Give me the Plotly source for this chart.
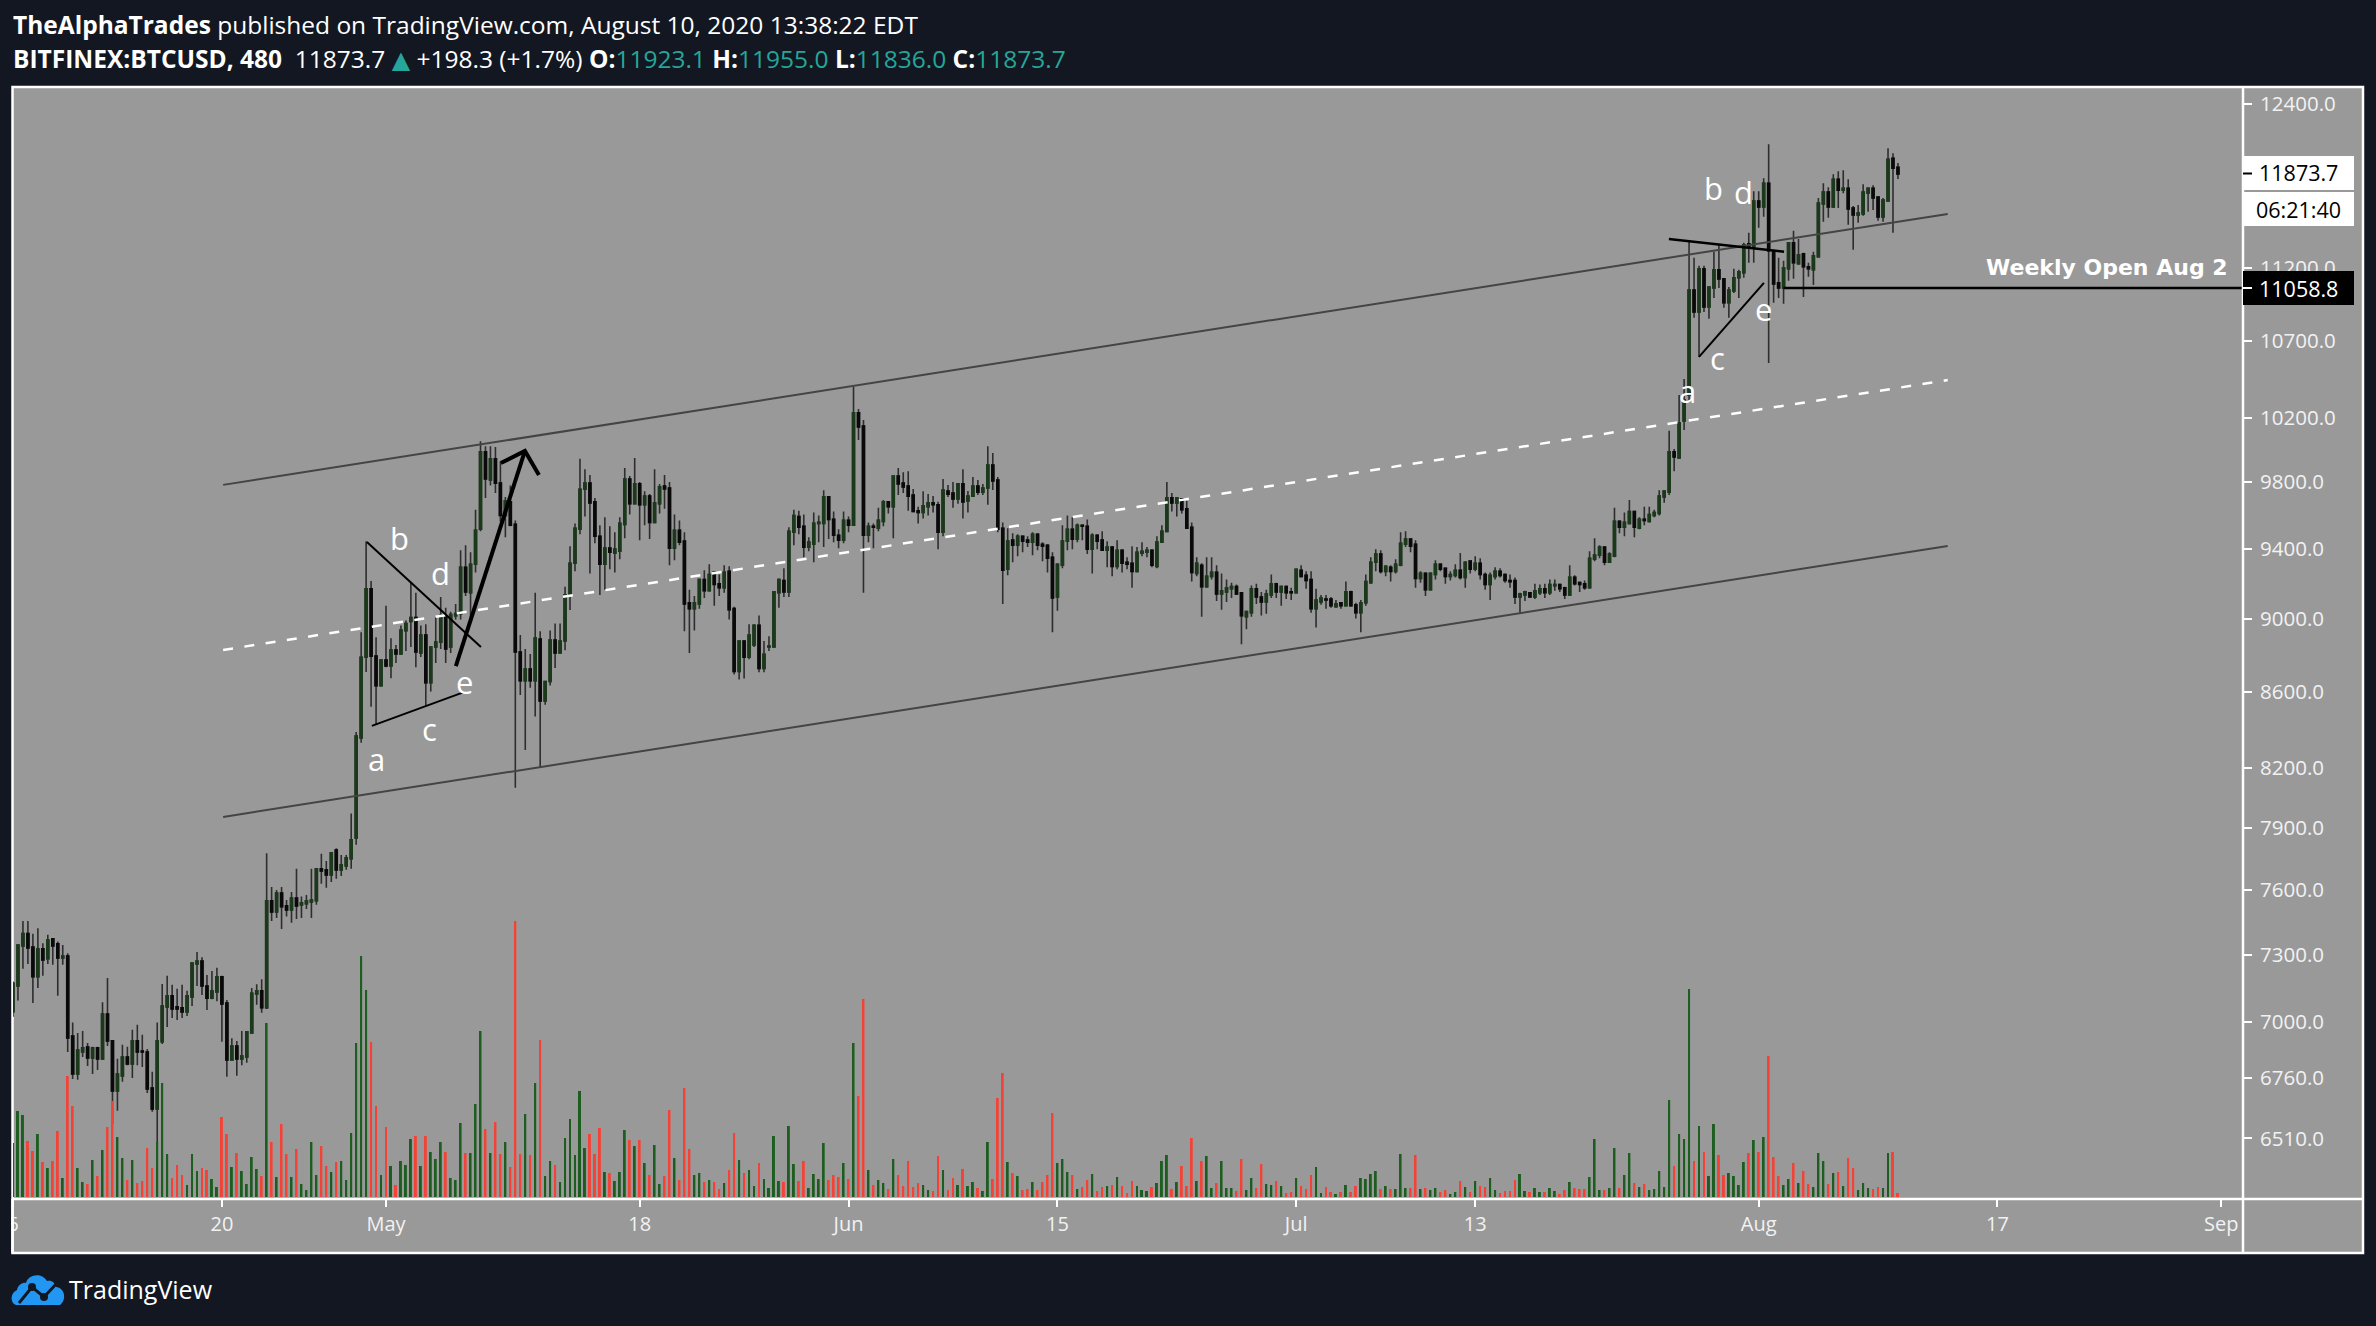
import math
from datetime import datetime, timedelta
import plotly.graph_objects as go

# ---------- chart values ----------
opens = [7045,7159,7340,7396,7335,7200,7326,7281,7372,7349,
7285,7294,6939,6777,6870,6892,6845,6888,6841,7035,
6918,6706,6769,6849,6819,6918,6874,6870,6718,6631,
6914,7066,7115,7066,7062,7044,7110,7258,7271,7159,
7105,7132,7200,7083,6836,6896,6841,6849,6952,7123,
7137,7062,7549,7497,7586,7525,7506,7562,7530,7535,
7544,7549,7701,7696,7672,7792,7696,7715,7749,7851,
8355,8786,9169,8792,8632,8771,8738,8826,8804,8933,
8984,9006,8809,8908,8648,8842,8869,9011,8842,9017,
9028,9293,9146,9310,9515,9985,9812,9942,9793,9597,
9679,9544,8815,8659,8722,8659,8886,8550,8654,8880,
8809,8875,9134,9316,9515,9755,9793,9679,9474,9310,
9404,9375,9386,9544,9818,9668,9788,9662,9714,9556,
9668,9775,9763,9404,9509,9445,9089,9056,9083,9222,
9158,9263,9198,9175,9269,9056,8709,8875,8786,8853,
8962,8725,8842,8842,9146,9216,9151,9498,9591,9533,
9410,9427,9550,9550,9709,9574,9480,9451,9568,9539,
10232,10148,9480,9533,9521,9562,9679,9650,9836,9793,
9775,9720,9626,9615,9650,9673,9662,9498,9745,9732,
9697,9788,9685,9714,9775,9738,9763,9904,9812,9521,
9281,9451,9421,9474,9451,9439,9486,9427,9421,9351,
9122,9304,9445,9515,9457,9539,9533,9398,9480,9451,
9392,9410,9298,9392,9322,9316,9269,9375,9380,9392,
9298,9439,9503,9703,9673,9697,9638,9527,9257,9304,
9181,9240,9263,9140,9151,9169,9181,9146,9011,9033,
9169,9122,9094,9134,9198,9151,9181,9151,9146,9275,
9246,9222,9056,9094,9111,9111,9067,9089,9072,9151,
9078,9033,9089,9204,9322,9369,9269,9293,9269,9304,
9427,9457,9427,9228,9257,9163,9251,9310,9287,9240,
9246,9275,9234,9328,9281,9316,9251,9193,9240,9269,
9251,9216,9216,9122,9134,9146,9122,9146,9169,9146,
9187,9193,9175,9134,9234,9204,9198,9175,9339,9363,
9410,9322,9357,9562,9527,9550,9621,9521,9574,9562,
9597,9609,9709,9738,9985,9948,10180,10345,11045,10895,
11192,10929,11059,11185,11122,10957,11038,11129,11164,11367,
11346,11675,11631,11804,11318,11094,11058.8,11192,11374,11227,
11297,11206,11185,11276,11653,11739,11631,11833,11753,11768,
11624,11574,11581,11732,11768,11703,11560,11675,11990,11923.1]

highs = [7179,7344,7455,7455,7396,7421,7352,7391,7372,7360,
7344,7306,6998,6952,6961,6909,6893,6893,7087,7195,
6918,6841,6901,6893,6966,6988,6944,6883,6786,6998,
7168,7204,7164,7146,7164,7137,7262,7312,7288,7208,
7226,7240,7204,7097,6929,6918,6961,6957,7150,7166,
7189,7776,7614,7600,7614,7553,7591,7701,7569,7576,
7701,7701,7773,7739,7778,7800,7768,7768,7971,8386,
8924,9445,9214,8896,8771,9072,8891,8853,8962,8989,
9206,9146,8962,8968,8842,9011,9122,9061,9039,9083,
9392,9421,9380,9632,10052,10021,10021,10015,9925,9709,
9779,9568,8908,8831,8804,9146,8929,8654,8934,8973,
8973,9181,9415,9550,9942,9878,9842,9703,9539,9586,
9533,9498,9586,9885,9836,9948,9800,9744,9726,9878,
9788,9842,9800,9603,9568,9498,9163,9128,9228,9275,
9310,9263,9251,9304,9298,9067,8875,8875,8968,8968,
9017,8875,8902,9151,9228,9287,9527,9632,9626,9603,
9468,9615,9597,9750,9709,9621,9515,9621,9591,10400,
10256,10186,9556,9550,9644,9691,9685,9836,9885,9860,
9866,9757,9650,9744,9726,9714,9679,9818,9782,9800,
9793,9878,9745,9830,9812,9788,10021,9978,9830,9556,
9521,9492,9486,9474,9474,9498,9492,9439,9427,9380,
9316,9539,9597,9586,9550,9544,9574,9492,9486,9503,
9445,9410,9451,9398,9351,9415,9410,9439,9410,9398,
9474,9539,9800,9732,9709,9703,9685,9556,9351,9316,
9351,9351,9304,9257,9222,9204,9193,9146,9039,9187,
9198,9151,9163,9251,9204,9187,9187,9175,9281,9304,
9269,9269,9169,9134,9134,9122,9105,9094,9210,9158,
9089,9105,9251,9351,9398,9392,9304,9304,9339,9498,
9503,9462,9451,9269,9257,9257,9334,9316,9287,9269,
9310,9375,9328,9334,9357,9345,9263,9263,9293,9287,
9257,9251,9234,9146,9158,9146,9198,9193,9198,9222,
9222,9198,9181,9304,9246,9210,9216,9386,9462,9421,
9410,9380,9644,9568,9615,9691,9621,9586,9650,9650,
9632,9750,9750,10118,10003,10345,10449,11381,11269,11213,
11213,11066,11311,11360,11122,11066,11192,11185,11374,11446,
11746,11746,11841,12094,11325,11269,11248,11374,11460,11402,
11304,11234,11311,11696,11804,11775,11870,11893,11900,11833,
11638,11646,11797,11775,11790,11710,11696,12065,12028,11955]

lows = [7023,7094,7236,7258,7083,7150,7204,7258,7254,7115,
7254,6870,6756,6752,6849,6811,6777,6794,6841,6896,
6569,6623,6744,6814,6760,6814,6806,6697,6619,6496,
6905,6978,7017,7009,7017,7026,7070,7159,7119,7052,
7100,7091,6914,6765,6836,6769,6814,6824,6952,7075,
7040,7057,7455,7469,7418,7475,7446,7464,7469,7511,
7469,7530,7629,7610,7638,7653,7667,7696,7701,7817,
8330,8705,8519,8423,8626,8732,8672,8754,8804,8820,
8842,8732,8787,8524,8600,8754,8831,8754,8809,8995,
8995,9128,8995,9263,9503,9703,9779,9732,9562,9468,
9533,8100,8582,8293,8621,8467,8200,8530,8632,8727,
8809,8825,9048,9269,9485,9591,9257,9433,9134,9163,
9281,9263,9339,9462,9603,9668,9451,9539,9457,9556,
9609,9638,9304,9334,9421,8929,8809,8934,9056,9116,
9158,9072,9128,9146,8995,8692,8665,8670,8775,8842,
8704,8704,8820,8842,9061,9122,9122,9421,9486,9351,
9386,9322,9439,9410,9457,9439,9404,9433,9498,9539,
10060,9146,9439,9404,9503,9533,9609,9462,9720,9732,
9626,9621,9550,9580,9597,9615,9398,9474,9709,9644,
9668,9580,9615,9709,9720,9720,9662,9751,9498,9083,
9246,9322,9357,9380,9410,9363,9392,9328,9263,8924,
9044,9287,9392,9398,9439,9451,9369,9257,9398,9392,
9293,9240,9281,9263,9281,9175,9263,9357,9351,9293,
9287,9439,9498,9621,9591,9609,9521,9210,9240,9011,
9175,9222,9099,9050,9094,9116,9134,8858,8940,9011,
9083,9017,9028,9116,9116,9072,9111,9105,9146,9234,
9169,9033,8951,9078,9056,9061,9061,9056,9072,9067,
9000,8924,9072,9198,9269,9257,9240,9210,9257,9298,
9410,9380,9175,9204,9128,9163,9222,9269,9198,9216,
9234,9222,9175,9257,9269,9222,9163,9105,9222,9234,
9204,9175,9083,9033,9099,9122,9111,9134,9116,9134,
9158,9151,9111,9128,9187,9151,9163,9175,9328,9345,
9304,9322,9351,9492,9474,9544,9468,9515,9539,9556,
9586,9597,9673,9720,9866,9942,10123,10313,10855,10594,
10895,10848,10990,11059,10923,10855,11025,10990,11129,11234,
11234,11481,11560,10554,10957,10990,10950,11108,11122,11220,
10997,11136,11080,11269,11524,11553,11631,11624,11732,11503,
11325,11517,11567,11596,11610,11531,11524,11675,11446,11836]

closes = [7171,7344,7396,7330,7200,7326,7276,7367,7340,7285,
7294,6931,6777,6879,6888,6845,6888,6841,7035,6918,
6706,6777,6849,6819,6918,6870,6870,6714,6631,6918,
7070,7115,7057,7057,7044,7115,7262,7271,7159,7105,
7137,7200,7079,6836,6896,6841,6853,6957,7126,7137,
7062,7549,7497,7586,7521,7506,7562,7525,7539,7549,
7553,7701,7691,7672,7778,7696,7720,7754,7841,8365,
8786,9169,8792,8632,8771,8738,8826,8804,8936,8973,
9006,8815,8908,8648,8842,8869,9017,8831,9023,9028,
9293,9151,9310,9509,9985,9818,9942,9793,9597,9685,
9539,8815,8659,8722,8659,8891,8550,8654,8880,8809,
8875,9134,9316,9521,9755,9793,9673,9474,9310,9404,
9380,9398,9550,9818,9668,9788,9662,9714,9556,9673,
9770,9757,9404,9509,9439,9083,9056,9089,9222,9158,
9251,9193,9175,9263,9050,8709,8875,8786,8908,8962,
8725,8802,8847,9151,9222,9151,9503,9597,9527,9410,
9439,9550,9556,9709,9574,9480,9451,9568,9539,10232,
10142,9480,9533,9527,9568,9679,9650,9836,9788,9770,
9714,9621,9615,9656,9673,9662,9498,9751,9726,9697,
9788,9679,9714,9775,9738,9763,9904,9806,9515,9275,
9445,9421,9474,9445,9439,9486,9421,9415,9345,9116,
9310,9445,9515,9457,9539,9533,9398,9480,9445,9392,
9410,9298,9392,9316,9310,9269,9380,9386,9392,9304,
9439,9503,9703,9673,9703,9632,9521,9263,9316,9181,
9240,9263,9140,9158,9175,9181,9140,9017,9039,9169,
9122,9094,9140,9198,9151,9181,9146,9146,9281,9240,
9216,9056,9105,9116,9105,9072,9083,9072,9151,9072,
9033,9089,9210,9322,9369,9269,9298,9269,9310,9433,
9457,9415,9228,9257,9163,9257,9310,9281,9240,9251,
9275,9234,9322,9281,9316,9251,9193,9246,9269,9246,
9216,9210,9122,9140,9151,9122,9158,9169,9146,9193,
9193,9169,9134,9234,9198,9193,9175,9345,9363,9410,
9322,9369,9562,9527,9556,9621,9527,9574,9568,9603,
9615,9714,9745,9985,9954,10167,10313,11045,10895,11192,
10929,11066,11185,11122,10957,11045,11129,11171,11360,11346,
11675,11631,11804,11318,11087,11059,11199,11374,11234,11290,
11206,11192,11283,11660,11739,11631,11833,11753,11768,11617,
11574,11588,11739,11768,11696,11560,11682,11982,11915,11873.7]

volumes = [54,86,82,56,46,63,35,29,36,66,
19,121,91,29,15,13,37,21,47,70,
96,60,39,17,37,14,16,49,29,55,
114,43,19,32,22,12,43,26,29,27,
18,10,80,63,30,44,26,13,40,28,
21,174,55,20,73,43,20,48,13,7,
55,22,51,31,25,35,36,17,64,154,
241,207,155,91,22,70,31,12,36,32,
58,61,31,61,45,38,55,45,19,17,
74,44,44,93,166,68,44,75,43,55,
30,276,43,83,42,114,157,21,36,32,
15,59,78,42,106,49,63,43,
69,25,24,16,25,67,57,51,57,34,22,52,13,21,87,39,17,109,48,22,24,15,17,15,8,14,27,64,37,24,27,11,34,18,9,61,16,15,71,33,16,36,9,23,18,54,17,22,20,34,18,154,101,198,27,12,17,14,8,38,22,11,36,10,14,12,7,6,41,27,7,19,12,28,11,15,9,6,55,18,99,124,35,24,21,7,8,15,7,15,22,84,34,38,25,22,8,10,17,23,6,10,11,12,20,
11,4,16,11,7,6,10,14,36,42,8,15,31,11,59,16,36,41,9,14,36,9,9,6,38,7,19,9,33,13,12,16,11,4,5,19,11,8,22,30,4,10,5,3,5,12,5,11,19,18,23,26,8,11,8,8,43,9,9,42,8,9,7,9,5,7,3,5,16,10,5,16,11,10,19,7,4,6,6,17,23,6,5,9,5,5,9,6,3,7,15,9,8,8,20,58,7,7,9,49,9,22,44,14,10,
13,7,8,26,10,97,31,63,58,208,36,71,45,21,73,42,22,24,21,12,35,44,57,45,60,141,40,21,12,18,34,14,26,13,10,44,36,13,24,25,11,39,29,7,14,9,8,10,9,44,45,4]

first_bar = datetime(2020, 4, 6, 0, 0)
bar_hours = 8

x_tick_dates = ["2020-04-06","2020-04-20","2020-05-01","2020-05-18","2020-06-01","2020-06-15",
                "2020-07-01","2020-07-13","2020-08-01","2020-08-17","2020-09-01"]
x_tick_text = ["6","20","May","18","Jun","15","Jul","13","Aug","17","Sep"]
y_tick_vals = [12400,11200,10700,10200,9800,9400,9000,8600,8200,7900,7600,7300,7000,6760,6510]
y_tick_text = [f"{v:.1f}" for v in y_tick_vals]

upper_channel = (["2020-04-20 02:00","2020-08-13 16:00"],[9782,11581])
middle_channel = (["2020-04-20 02:00","2020-08-13 16:00"],[8826,10442])
lower_channel = (["2020-04-20 02:00","2020-08-13 16:00"],[7954,9417])
tri1_upper = (["2020-04-29 17:15","2020-05-07 08:40"],[9440,8842])
tri1_lower = (["2020-04-30 01:12","2020-05-06 05:15"],[8418,8597])
arrow_shaft = (["2020-05-05 16:20","2020-05-10 07:26"],[8738,9991])
arrow_head = (["2020-05-08 16:50","2020-05-10 07:26","2020-05-11 06:00"],[9916,9991,9842])
tri2_upper = (["2020-07-25 23:30","2020-08-02 16:48"],[11402,11311])
tri2_lower = (["2020-07-28 00:00","2020-08-01 08:24"],[10594,11094])
weekly_open = (["2020-08-02 16:00","2020-09-02 11:00"],[11058.8,11058.8])

letters = ["a","b","d","c","e","a","b","d","c","e"]
letter_dates = ["2020-04-30 09:20","2020-05-01 22:20","2020-05-04 16:20","2020-05-03 22:30","2020-05-06 07:00",
                "2020-07-27 06:15","2020-07-29 00:00","2020-07-31 00:00","2020-07-29 06:30","2020-08-01 08:24"]
letter_prices = [8247,9464,9259,8402,8651,10372,11768,11739,10587,10916]

# ---------- styling ----------
W, H = 2376, 1326
ML, MR, MT, MB = 13, 133, 87, 127
BG, PANEL = "#131722", "#999999"
UP_BODY, DOWN_BODY = "#1b3a1b", "#0a0a0a"
WICK = "#2e2e2e"
VOL_UP, VOL_DOWN = "#1d5e20", "#f44336"
TEAL = "#26a69a"
FONT = "Open Sans"

assert len(opens) == len(highs) == len(lows) == len(closes) == len(volumes), (len(opens), len(highs), len(lows), len(closes), len(volumes))

def ax(px):
    return (px - ML) / (W - ML - MR)
def ay(py):
    return (H - MB - py) / (H - MT - MB)

dates = [first_bar + timedelta(hours=bar_hours * i) for i in range(len(opens))]
bar_ms = bar_hours * 3600 * 1000
vol_colors = [VOL_DOWN if c < o else VOL_UP for o, c in zip(opens, closes)]

fig = go.Figure()
fig.add_trace(go.Candlestick(
    x=dates, open=opens, high=highs, low=lows, close=closes,
    increasing=dict(line=dict(color=WICK, width=1.6), fillcolor=WICK),
    decreasing=dict(line=dict(color=WICK, width=1.6), fillcolor=WICK),
    hoverinfo="skip", showlegend=False))
fig.add_trace(go.Candlestick(
    x=dates, open=opens, close=closes,
    high=[max(o, c) for o, c in zip(opens, closes)],
    low=[min(o, c) for o, c in zip(opens, closes)],
    increasing=dict(line=dict(color=UP_BODY, width=1.6), fillcolor=UP_BODY),
    decreasing=dict(line=dict(color=DOWN_BODY, width=1.6), fillcolor=DOWN_BODY),
    hoverinfo="skip", showlegend=False))
fig.add_trace(go.Bar(x=dates, y=volumes, width=0.4 * bar_ms, marker=dict(color=vol_colors, line=dict(width=0)),
                     yaxis="y2", hoverinfo="skip", showlegend=False))

def add_line(pts, color, width, dash="solid"):
    fig.add_trace(go.Scatter(x=pts[0], y=pts[1], mode="lines", line=dict(color=color, width=width, dash=dash),
                             hoverinfo="skip", showlegend=False))

add_line(upper_channel, "#444444", 2)
add_line(lower_channel, "#444444", 2)
add_line(middle_channel, "#ffffff", 2.5, "10px 11.5px")
add_line(tri1_upper, "#000000", 2)
add_line(tri1_lower, "#000000", 2)
add_line(arrow_shaft, "#000000", 4)
add_line(arrow_head, "#000000", 4)
add_line(tri2_upper, "#000000", 2.5)
add_line(tri2_lower, "#000000", 2)
add_line(weekly_open, "#000000", 2.5)

annotations = []
for t, d, p in zip(letters, letter_dates, letter_prices):
    annotations.append(dict(text=t, x=d, y=math.log10(p), xref="x", yref="y", showarrow=False,
                            font=dict(family=FONT, size=31, color="#ffffff")))
annotations.append(dict(text="<b>Weekly Open Aug 2</b>", x="2020-09-01 14:00", y=math.log10(11199), xref="x", yref="y",
                        xanchor="right", showarrow=False, font=dict(family="DejaVu Sans", size=22, color="#ffffff")))

def txt(text, px, py, size, color="#ffffff", anchor="left", family=FONT):
    annotations.append(dict(text=text, x=ax(px), y=ay(py), xref="paper", yref="paper", xanchor=anchor, yanchor="middle",
                            showarrow=False, align="left", font=dict(family=family, size=size, color=color)))

def teal(s):
    return f'<span style="color:{TEAL}">{s}</span>'

triangle = f'<span style="color:{TEAL};font-family:DejaVu Sans;font-size:24px">▲</span>'
txt("<b>TheAlphaTrades</b> published on TradingView.com, August 10, 2020 13:38:22 EDT", 11, 25, 24.5)
txt("<b>BITFINEX:BTCUSD, 480</b>  11873.7 " + triangle + " +198.3 (+1.7%) <b>O:</b>" + teal("11923.1") +
    " <b>H:</b>" + teal("11955.0") + " <b>L:</b>" + teal("11836.0") + " <b>C:</b>" + teal("11873.7"), 11, 58, 24.5)
txt("TradingView", 67, 1289, 25)
txt("11873.7", 2298, 173, 21.5, "#000000", "center")
txt("06:21:40", 2298, 209, 21.5, "#000000", "center")
txt("11058.8", 2298, 288, 21.5, "#ffffff", "center")

def rect(x0, y0, x1, y1, fill, layer="above", line=None):
    return dict(type="rect", xref="paper", yref="paper", x0=ax(x0), x1=ax(x1), y0=ay(y0), y1=ay(y1),
                fillcolor=fill, layer=layer, line=line or dict(width=0))
def seg(x0, y0, x1, y1, color, width=2.5, layer="above"):
    return dict(type="line", xref="paper", yref="paper", x0=ax(x0), x1=ax(x1), y0=ay(y0), y1=ay(y1),
                layer=layer, line=dict(color=color, width=width))
def path_of(cmds):
    out = []
    for c in cmds:
        out.append(c[0] + " " + " ".join(f"{ax(c[i]):.6f},{ay(c[i+1]):.6f}" for i in range(1, len(c), 2)))
    return " ".join(out) + " Z"

cloud = [("M",16,1305),("C",10,1303,10,1293,17,1290),("C",18,1284,24,1282,26,1283),("C",28,1274,42,1272,47,1281),
         ("C",52,1280,55,1283,56,1287),("C",65,1288,67,1300,60,1305)]
shapes = [
    rect(12.5, 87, 2363, 1253, PANEL, "below", dict(color="#ffffff", width=2.5)),
    seg(2243, 87, 2243, 1253, "#ffffff"),
    seg(12.5, 1199, 2363, 1199, "#ffffff"),
    rect(0, 1203, 11, 1251, BG),
    seg(12.5, 1199, 12.5, 1253, "#ffffff"),
    rect(2243, 156, 2354, 190, "#ffffff"),
    rect(2243, 192, 2354, 226, "#ffffff"),
    rect(2243, 271, 2354, 305, "#000000"),
    seg(2243, 173.5, 2252, 173.5, "#000000", 2),
    seg(2243, 288, 2252, 288, "#ffffff", 2),
    dict(type="path", xref="paper", yref="paper", path=path_of(cloud), fillcolor="#2196f3", line=dict(width=0), layer="above"),
    dict(type="path", xref="paper", yref="paper",
         path=f"M {ax(19)},{ay(1303)} L {ax(32)},{ay(1287)} L {ax(44)},{ay(1297)} L {ax(58)},{ay(1282)}",
         line=dict(color=BG, width=3), layer="above"),
    dict(type="circle", xref="paper", yref="paper", x0=ax(28), x1=ax(36), y0=ay(1283), y1=ay(1291), fillcolor=BG, line=dict(width=0), layer="above"),
    dict(type="circle", xref="paper", yref="paper", x0=ax(40), x1=ax(48), y0=ay(1293), y1=ay(1301), fillcolor=BG, line=dict(width=0), layer="above"),
]

fig.update_layout(
    width=W, height=H, margin=dict(l=ML, r=MR, t=MT, b=MB, pad=0, autoexpand=False),
    paper_bgcolor=BG, plot_bgcolor=PANEL, hovermode=False, showlegend=False, barmode="overlay",
    boxgap=0.45, annotations=annotations, shapes=shapes,
    xaxis=dict(type="date", range=["2020-04-06 00:00", "2020-09-02 11:00"], rangeslider=dict(visible=False),
               tickmode="array", tickvals=x_tick_dates, ticktext=x_tick_text, ticks="outside", ticklen=7, tickwidth=2,
               tickcolor="#ffffff", showgrid=False, zeroline=False, showline=False,
               tickfont=dict(family=FONT, size=20, color="#f2f2f2"), tickangle=0),
    yaxis=dict(type="log", side="right", range=[math.log10(6269), math.log10(12534)],
               tickmode="array", tickvals=y_tick_vals, ticktext=y_tick_text, ticks="outside", ticklen=8, tickwidth=2,
               tickcolor="#ffffff", showgrid=False, zeroline=False, showline=False,
               tickfont=dict(family=FONT, size=20.5, color="#f2f2f2"), ticklabelstandoff=4),
    yaxis2=dict(overlaying="y", side="left", range=[-2, 1110], visible=False, fixedrange=True),
)

fig.write_html("out.html", config=dict(displayModeBar=False),
               post_script="document.body.style.margin='0';document.documentElement.style.overflow='hidden';document.body.style.background='#131722';")
